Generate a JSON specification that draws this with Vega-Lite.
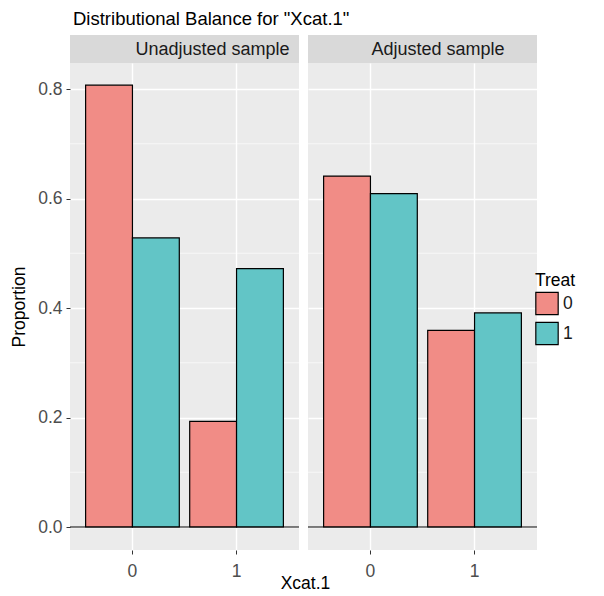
{
  "$schema": "https://vega.github.io/schema/vega-lite/v6.json",
  "padding": {"left": 10, "top": 9, "right": 5, "bottom": 5},
  "background": "white",
  "title": {"text": "Distributional Balance for \"Xcat.1\"", "anchor": "start", "frame": "group", "fontSize": 18.5, "fontWeight": "normal", "color": "#000000", "font": "Liberation Sans", "offset": 7, "dx": 3},
  "datasets": {
    "bars": [
      {"panel": "Unadjusted sample", "xcat": "0", "treat": "0", "prop": 0.807},
      {"panel": "Unadjusted sample", "xcat": "0", "treat": "1", "prop": 0.528},
      {"panel": "Unadjusted sample", "xcat": "1", "treat": "0", "prop": 0.193},
      {"panel": "Unadjusted sample", "xcat": "1", "treat": "1", "prop": 0.472},
      {"panel": "Adjusted sample", "xcat": "0", "treat": "0", "prop": 0.641},
      {"panel": "Adjusted sample", "xcat": "0", "treat": "1", "prop": 0.609},
      {"panel": "Adjusted sample", "xcat": "1", "treat": "0", "prop": 0.359},
      {"panel": "Adjusted sample", "xcat": "1", "treat": "1", "prop": 0.391}
    ],
    "minor": [{"g": 0.1}, {"g": 0.3}, {"g": 0.5}, {"g": 0.7}],
    "zero": [{"z": 0}]
  },
  "config": {
    "font": "Liberation Sans",
    "view": {"stroke": null}
  },
  "bounds": "flush",
  "columns": 2,
  "spacing": {"row": 0, "column": 9},
  "concat": [
    {
      "width": 229, "height": 28,
      "view": {"fill": "#d9d9d9", "stroke": null},
      "data": {"values": [{"panel": "Unadjusted sample"}]},
      "mark": {"type": "text", "fontSize": 18, "color": "#1a1a1a", "dx": 28, "dy": 1, "baseline": "middle", "align": "center"},
      "encoding": {"text": {"field": "panel"}}
    },
    {
      "width": 229, "height": 28,
      "view": {"fill": "#d9d9d9", "stroke": null},
      "data": {"values": [{"panel": "Adjusted sample"}]},
      "mark": {"type": "text", "fontSize": 18, "color": "#1a1a1a", "dx": 15.5, "dy": 1, "baseline": "middle", "align": "center"},
      "encoding": {"text": {"field": "panel"}}
    },
    {
      "width": 229, "height": 487,
      "view": {"fill": "#ebebeb", "stroke": null},
      "layer": [
        {
          "data": {"name": "minor"},
          "mark": {"type": "rule", "color": "#ffffff", "strokeWidth": 0.6},
          "encoding": {"y": {"field": "g", "type": "quantitative", "scale": {"domain": [-0.042, 0.8475], "nice": false, "zero": false}}}
        },
        {
          "data": {"name": "bars"},
          "transform": [{"filter": "datum.panel === 'Unadjusted sample'"}],
          "mark": {"type": "bar", "stroke": "#000000", "strokeWidth": 1.2, "opacity": 1},
          "encoding": {
            "x": {"field": "xcat", "type": "nominal", "scale": {"domain": ["0", "1"], "paddingInner": 0.1, "paddingOuter": 0.15},
              "axis": {"title": "Xcat.1", "titleX": 235, "titleY": 24, "titleBaseline": "top", "titleFontSize": 17.5, "titleFontWeight": "normal", "titleColor": "#000000", "labelAngle": 0, "labelFontSize": 17.5, "labelColor": "#4d4d4d", "labelPadding": 8, "tickColor": "#333333", "tickSize": 4, "domain": false, "grid": true, "gridColor": "#ffffff", "gridWidth": 1.4, "bandPosition": 0.5}},
            "xOffset": {"field": "treat", "type": "nominal", "scale": {"paddingInner": 0, "paddingOuter": 0}},
            "y": {"field": "prop", "type": "quantitative", "scale": {"domain": [-0.042, 0.8475], "nice": false, "zero": false},
              "axis": {"title": "Proportion", "titleFontSize": 17.5, "titleFontWeight": "normal", "titleColor": "#000000", "titlePadding": 9, "values": [0, 0.2, 0.4, 0.6, 0.8], "format": ".1f", "labelFontSize": 17.5, "labelColor": "#4d4d4d", "labelPadding": 4, "tickColor": "#333333", "tickSize": 4, "domain": false, "grid": true, "gridColor": "#ffffff", "gridWidth": 1.4}},
            "color": {"field": "treat", "type": "nominal", "scale": {"domain": ["0", "1"], "range": ["#F18C86", "#62C5C6"]},
              "legend": {"title": "Treat", "orient": "none", "legendX": 465, "legendY": 237, "titleFontSize": 17.5, "titleFontWeight": "normal", "titleColor": "#000000", "labelFontSize": 17.5, "labelColor": "#1a1a1a", "symbolType": "square", "symbolSize": 500, "symbolStrokeColor": "#000000", "symbolStrokeWidth": 1.2, "symbolOpacity": 1, "rowPadding": 2, "titlePadding": 2, "labelOffset": 4}}
          }
        },
        {
          "data": {"name": "zero"},
          "mark": {"type": "rule", "color": "#000000", "strokeWidth": 1.2},
          "encoding": {"y": {"field": "z", "type": "quantitative"}}
        }
      ]
    },
    {
      "width": 229, "height": 487,
      "view": {"fill": "#ebebeb", "stroke": null},
      "layer": [
        {
          "data": {"name": "minor"},
          "mark": {"type": "rule", "color": "#ffffff", "strokeWidth": 0.6},
          "encoding": {"y": {"field": "g", "type": "quantitative", "scale": {"domain": [-0.042, 0.8475], "nice": false, "zero": false}}}
        },
        {
          "data": {"name": "bars"},
          "transform": [{"filter": "datum.panel === 'Adjusted sample'"}],
          "mark": {"type": "bar", "stroke": "#000000", "strokeWidth": 1.2, "opacity": 1},
          "encoding": {
            "x": {"field": "xcat", "type": "nominal", "scale": {"domain": ["0", "1"], "paddingInner": 0.1, "paddingOuter": 0.15},
              "axis": {"title": null, "labelAngle": 0, "labelFontSize": 17.5, "labelColor": "#4d4d4d", "labelPadding": 8, "tickColor": "#333333", "tickSize": 4, "domain": false, "grid": true, "gridColor": "#ffffff", "gridWidth": 1.4, "bandPosition": 0.5}},
            "xOffset": {"field": "treat", "type": "nominal", "scale": {"paddingInner": 0, "paddingOuter": 0}},
            "y": {"field": "prop", "type": "quantitative", "scale": {"domain": [-0.042, 0.8475], "nice": false, "zero": false},
              "axis": {"title": null, "values": [0, 0.2, 0.4, 0.6, 0.8], "labels": false, "ticks": false, "domain": false, "grid": true, "gridColor": "#ffffff", "gridWidth": 1.4}},
            "color": {"field": "treat", "type": "nominal", "scale": {"domain": ["0", "1"], "range": ["#F18C86", "#62C5C6"]}}
          }
        },
        {
          "data": {"name": "zero"},
          "mark": {"type": "rule", "color": "#000000", "strokeWidth": 1.2},
          "encoding": {"y": {"field": "z", "type": "quantitative"}}
        }
      ]
    }
  ]
}
